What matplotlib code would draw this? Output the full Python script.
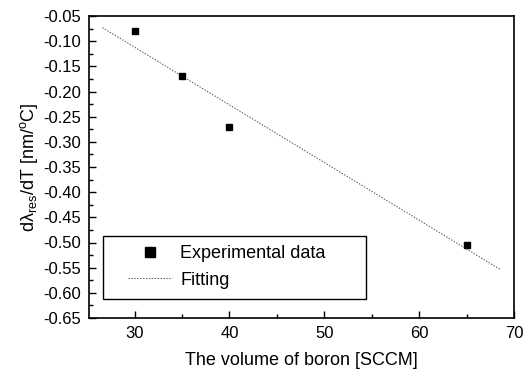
import matplotlib
matplotlib.use("Agg")
import matplotlib.pyplot as plt
from matplotlib.ticker import MultipleLocator
from matplotlib.patches import Rectangle

plt.rcParams["font.family"] = ["Liberation Sans", "DejaVu Sans"]
plt.rcParams["mathtext.default"] = "regular"

# Data
boron = [30, 35, 40, 65]
dlambda = [-0.08, -0.17, -0.27, -0.505]

# Linear fit line, endpoints as drawn
fit_x = [26.6, 68.5]
fit_y = [-0.073, -0.553]

W, H = 524, 376
L, R, T, B = 89, 514, 16, 318

fig = plt.figure(figsize=(W / 100, H / 100), dpi=100)
ax = fig.add_axes([L / W, 1 - B / H, (R - L) / W, (B - T) / H])

ax.plot(fit_x, fit_y, color="#555555", linestyle=(0, (1.5, 1.5)), linewidth=0.7, label="Fitting")
ax.plot(boron, dlambda, linestyle="none", marker="s", markersize=5, color="black",
        label="Experimental data")

ax.set_xlim(25.2, 70)
ax.set_ylim(-0.65, -0.05)
ax.xaxis.set_major_locator(MultipleLocator(10))
ax.xaxis.set_minor_locator(MultipleLocator(5))
ax.yaxis.set_major_locator(MultipleLocator(0.05))
ax.yaxis.set_minor_locator(MultipleLocator(0.025))
ax.yaxis.set_major_formatter(plt.FuncFormatter(lambda v, p: f"{v:.2f}"))
ax.tick_params(which="both", direction="in", top=False, right=False, labelsize=12)
ax.tick_params(which="major", length=5, width=1, pad=6)
ax.tick_params(which="minor", length=3, width=1)
for s in ax.spines.values():
    s.set_linewidth(1.2)

ax.set_xlabel("The volume of boron [SCCM]", fontsize=13, labelpad=8)
ax.set_ylabel("d$\\lambda_{res}$/dT [nm/$^o$C]", fontsize=13, labelpad=2)

# legend box
ax.add_patch(Rectangle(((103 - L) / (R - L), (B - 299) / (B - T)), (366 - 103) / (R - L),
                       (299 - 236) / (B - T), transform=ax.transAxes, fill=True,
                       facecolor="white", edgecolor="black", linewidth=1.0, zorder=3))
handles, labels = ax.get_legend_handles_labels()
leg = ax.legend(handles[::-1], labels[::-1], loc="center left",
                bbox_to_anchor=((128 - L) / (R - L), (B - 267) / (B - T)),
                fontsize=13, frameon=False, handlelength=2.45, handletextpad=0.45,
                labelspacing=0.5, borderpad=0, borderaxespad=0, markerscale=1.3)
leg.set_zorder(4)

fig.savefig("out.png", dpi=100)
